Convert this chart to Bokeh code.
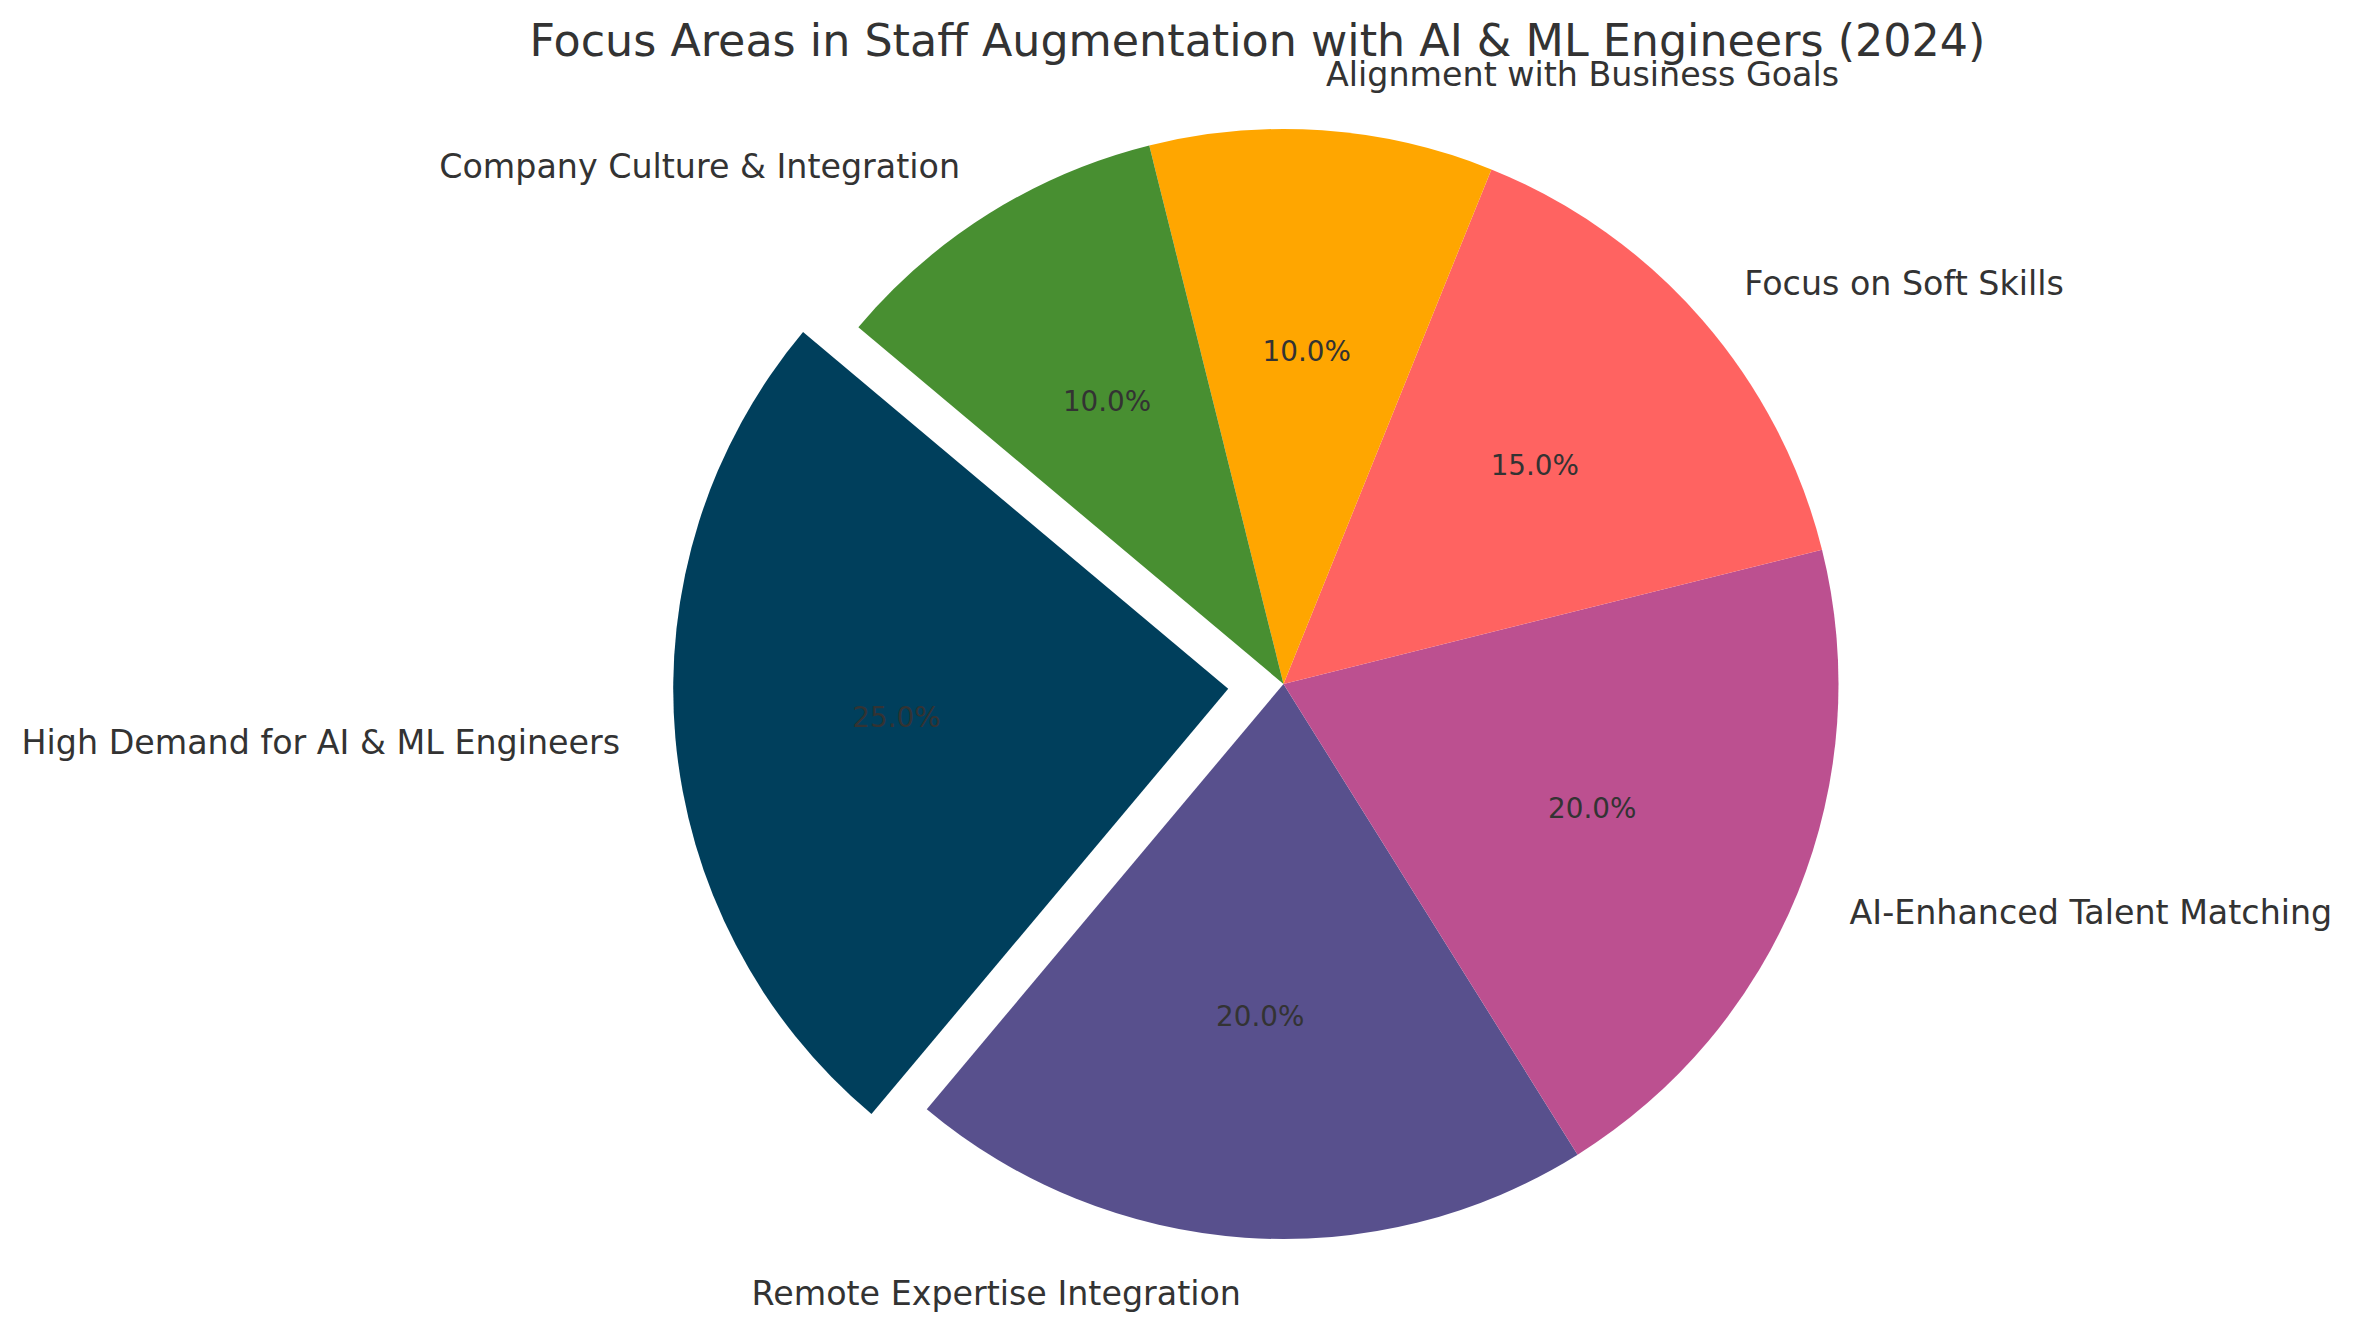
import numpy as np
from bokeh.plotting import figure
from bokeh.models import Range1d, ColumnDataSource
from bokeh.core.properties import value
from bokeh.embed import file_html
from bokeh.resources import INLINE

# ---- data ----
categories = [
    "High Demand for AI & ML Engineers",
    "Remote Expertise Integration",
    "AI-Enhanced Talent Matching",
    "Focus on Soft Skills",
    "Alignment with Business Goals",
    "Company Culture & Integration",
]
shares = [25, 20, 20, 15, 10, 10]
explode = [0.1, 0, 0, 0, 0, 0]
colors = ["#003f5c", "#58508d", "#bc5090", "#ff6361", "#ffa600", "#488f31"]
title_text = "Focus Areas in Staff Augmentation with AI & ML Engineers (2024)"
start_angle_deg = 140

# ---- layout ----
W, H = 2337, 1314
R_PX = 555.0            # pie radius in pixels
CX, CY = 1283.0, 683.5  # pie center in figure pixels
FONT = "DejaVu Sans"
TXT = "#333333"

vals = np.array(shares, dtype=float)
frac = vals / vals.sum()
starts, ends, cxs, cys, lx, ly, px, py, aligns, pcts = [], [], [], [], [], [], [], [], [], []
theta = np.deg2rad(start_angle_deg)
for f, ex in zip(frac, explode):
    t0 = theta
    t1 = theta + 2 * np.pi * f
    mid = 0.5 * (t0 + t1)
    ox, oy = ex * np.cos(mid), ex * np.sin(mid)
    starts.append(t0)
    ends.append(t1)
    cxs.append(ox)
    cys.append(oy)
    lx.append(ox + 1.1 * np.cos(mid))
    ly.append(oy + 1.1 * np.sin(mid))
    px.append(ox + 0.6 * np.cos(mid))
    py.append(oy + 0.6 * np.sin(mid))
    aligns.append("left" if np.cos(mid) > 0 else "right")
    pcts.append(f"{f*100:.1f}%")
    theta = t1

src = ColumnDataSource(dict(x=cxs, y=cys, start=starts, end=ends, color=colors,
                            lx=lx, ly=ly, px=px, py=py, label=categories,
                            align=aligns, pct=pcts))

p = figure(width=W, height=H, output_backend="svg", toolbar_location=None,
           x_range=Range1d(-CX / R_PX, (W - CX) / R_PX),
           y_range=Range1d(-(H - CY) / R_PX, CY / R_PX),
           min_border=0, outline_line_color=None)
p.axis.visible = False
p.grid.visible = False
p.background_fill_color = "white"
p.border_fill_color = "white"

p.wedge(x="x", y="y", radius=1.0, start_angle="start", end_angle="end",
        fill_color="color", line_color=None, source=src)

p.text(x="lx", y="ly", text="label", text_align="align", text_baseline="middle",
       text_font=value(FONT), text_font_size="33.3px", text_color=TXT, source=src)
p.text(x="px", y="py", text="pct", text_align="center", text_baseline="middle",
       text_font=value(FONT), text_font_size="27.8px", text_color=TXT, source=src)

p.text(x=[-0.047], y=[(CY - 40) / R_PX], text=[title_text], text_align="center",
       text_baseline="alphabetic", text_font=value(FONT), text_font_size="44.4px",
       text_color=TXT)

open("out.html", "w").write(file_html(p, INLINE))
